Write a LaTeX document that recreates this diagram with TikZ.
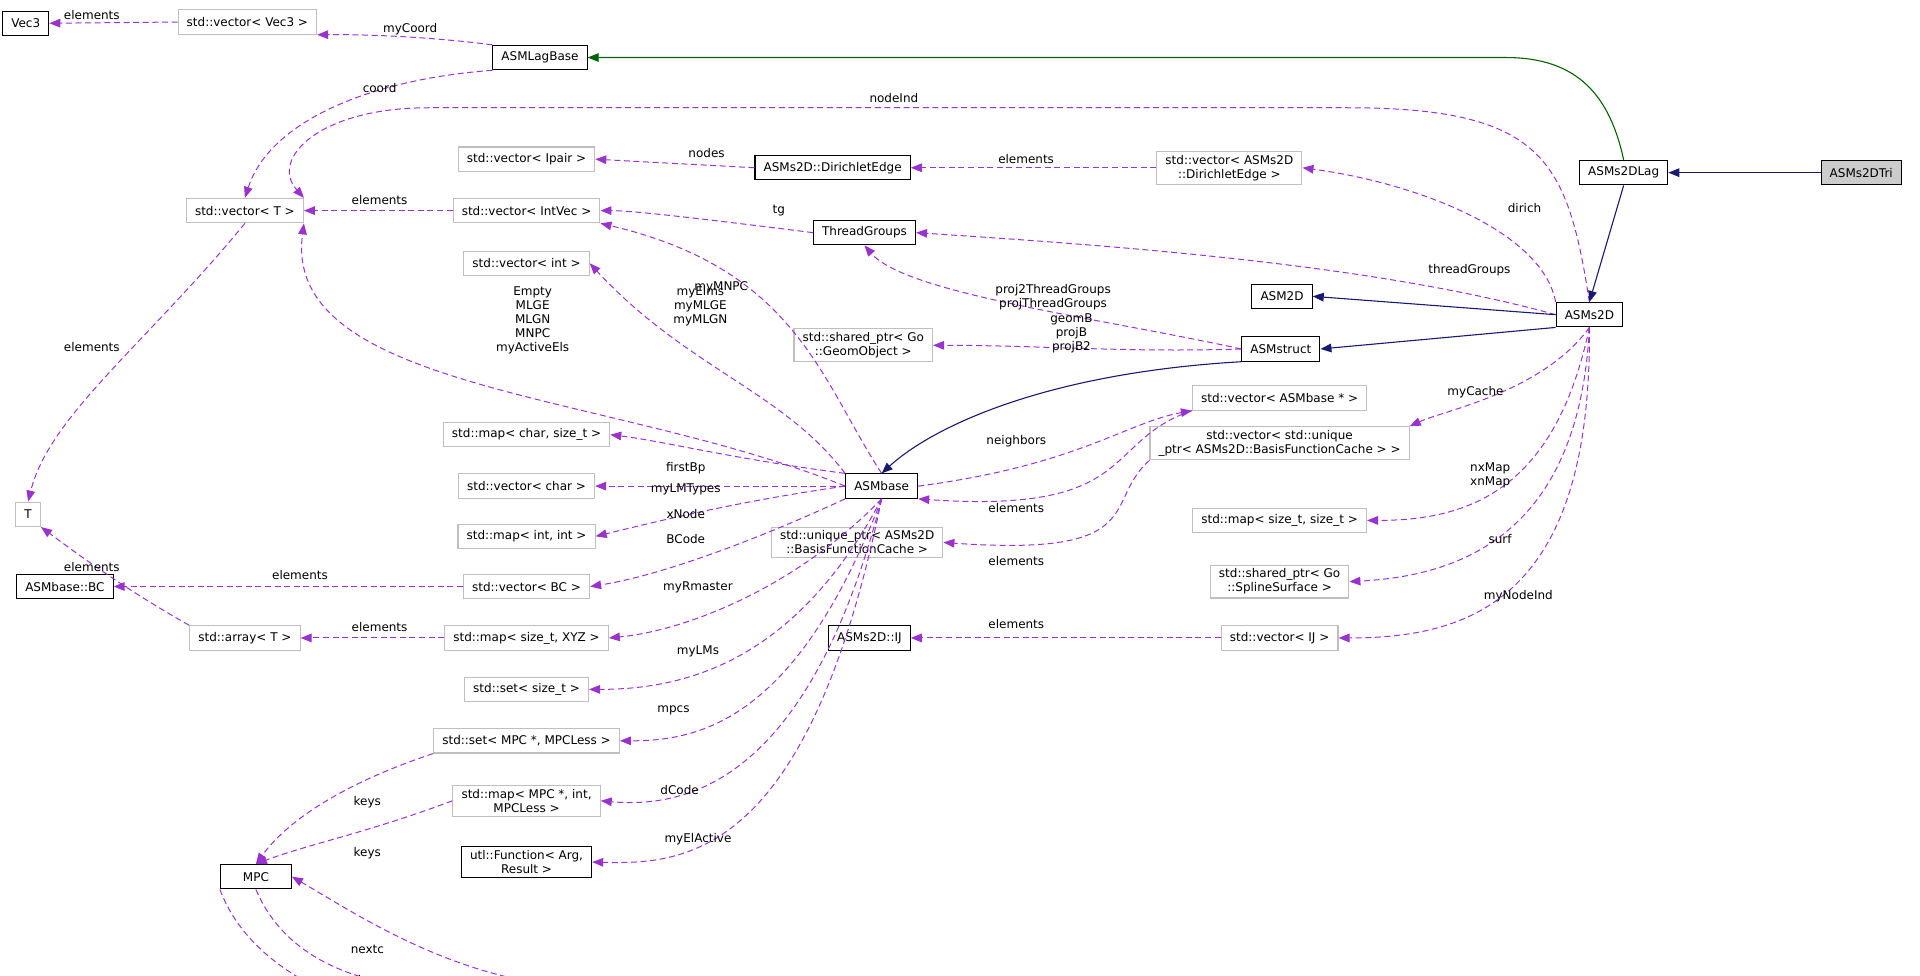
\documentclass[tikz,border=0pt]{standalone}
\usepackage{fontspec}
\setmainfont{DejaVu Sans}
\usetikzlibrary{arrows.meta}
\definecolor{pur}{HTML}{9A32CD}
\definecolor{nav}{HTML}{191970}
\definecolor{grn}{HTML}{006400}
\definecolor{gbd}{HTML}{BFBFBF}
\begin{document}
\begin{tikzpicture}[x=0.6123pt,y=-0.6123pt,font=\fontsize{6}{7}\selectfont,
 cls/.style={draw=black,rectangle,inner xsep=4.3pt,inner ysep=1.8pt,minimum height=12.2pt,align=center,line width=0.55pt},
 ext/.style={draw=gbd,rectangle,inner xsep=4.3pt,inner ysep=1.8pt,minimum height=12.2pt,align=center,line width=0.55pt},
 use/.style={draw=pur,dash pattern=on 3pt off 1.8pt,line width=0.5pt,-{Triangle[length=5.5pt,width=4.3pt,fill=pur]}},
 inh/.style={draw=nav,line width=0.55pt,-{Triangle[length=5.5pt,width=4.3pt,fill=nav]}},
 inhg/.style={draw=grn,line width=0.55pt,-{Triangle[length=5.5pt,width=4.3pt,fill=grn]}},
 lab/.style={inner sep=0pt,align=center}]
\useasboundingbox (0,0) rectangle (1568,797);
% nodes
\node[cls] (vec3) at (21,19) {Vec3};
\node[ext] (vv3) at (202,18) {std::vector< Vec3 >};
\node[cls] (lagbase) at (441,47) {ASMLagBase};
\node[ext] (vT) at (200,172) {std::vector< T >};
\node[ext] (ipair) at (430,130) {std::vector< Ipair >};
\node[cls] (dedge) at (680,137) {ASMs2D::DirichletEdge};
\node[ext] (vdedge) at (1004,137) {std::vector< ASMs2D\\::DirichletEdge >};
\node[ext] (intvec) at (430,172) {std::vector< IntVec >};
\node[cls] (tg) at (706,190) {ThreadGroups};
\node[cls] (lag) at (1326,141) {ASMs2DLag};
\node[cls,fill=gbd!80!white] (tri) at (1520,141) {ASMs2DTri};
\node[ext] (vint) at (430,215) {std::vector< int >};
\node[cls] (asm2d) at (1047,242) {ASM2D};
\node[cls] (s2d) at (1298,257) {ASMs2D};
\node[ext] (geom) at (705,282) {std::shared\_ptr< Go\\::GeomObject >};
\node[cls] (struct) at (1046,285) {ASMstruct};
\node[ext] (vbase) at (1045,325) {std::vector< ASMbase * >};
\node[ext] (vcache) at (1045,362) {std::vector< std::unique\\\_ptr< ASMs2D::BasisFunctionCache > >};
\node[ext] (mchar) at (430,355) {std::map< char, size\_t >};
\node[ext] (vchar) at (430,397) {std::vector< char >};
\node[cls] (base) at (720,397) {ASMbase};
\node[ext] (mint) at (430,438) {std::map< int, int >};
\node[ext] (T) at (23,420) {T};
\node[ext] (uptr) at (700,443) {std::unique\_ptr< ASMs2D\\::BasisFunctionCache >};
\node[ext] (mss) at (1045,425) {std::map< size\_t, size\_t >};
\node[ext] (spl) at (1045,475) {std::shared\_ptr< Go\\::SplineSurface >};
\node[cls] (bc) at (53,479) {ASMbase::BC};
\node[ext] (vbc) at (430,479) {std::vector< BC >};
\node[ext] (arr) at (200,521) {std::array< T >};
\node[ext] (mxyz) at (430,521) {std::map< size\_t, XYZ >};
\node[cls] (ij) at (710,521) {ASMs2D::IJ};
\node[ext] (vij) at (1045,521) {std::vector< IJ >};
\node[ext] (sst) at (430,563) {std::set< size\_t >};
\node[ext] (smpc) at (430,605) {std::set< MPC *, MPCLess >};
\node[ext] (mmpc) at (430,654) {std::map< MPC *, int,\\MPCLess >};
\node[cls] (fun) at (430,704) {utl::Function< Arg,\\Result >};
\node[cls,minimum width=35.5pt] (mpc) at (209,716) {MPC};
\node[cls] (dof) at (445,808) {MPC::DOF};
\node[ext] (vdof) at (695,829) {std::vector< MPC::DOF >};
% edges
\draw[use] (vv3.west) -- (vec3.east);
\node[lab] (l1) at (75,12) {elements};
\draw[use] (lagbase.north west) .. controls (350,30) and (300,28) .. (vv3.south east);
\node[lab] (l2) at (335,24) {myCoord};
\draw[use] (lagbase.south west) .. controls (300,65) and (220,100) .. (vT.north);
\node[lab] (l3) at (310,72) {coord};
\draw[inhg] (lag.north) .. controls (1315,80) and (1290,47) .. (1230,47) -- (lagbase.east);
\draw[use] (s2d.north) .. controls (1280,130) and (1260,88) .. (1100,88) -- (350,88) .. controls (260,88) and (220,130) .. (vT.north east);
\node[lab] (l4) at (730,80) {nodeInd};
\draw[use] (dedge.west) -- (ipair.east);
\node[lab] (l5) at (577,125) {nodes};
\draw[use] (vdedge.west) -- (dedge.east);
\node[lab] (l6) at (838,130) {elements};
\draw[use] (s2d.north west) .. controls (1260,190) and (1160,150) .. (vdedge.east);
\node[lab] (l7) at (1245,170) {dirich};
\draw[use] (intvec.west) -- (vT.east);
\node[lab] (l8) at (310,163) {elements};
\draw[use] (tg.west) .. controls (600,182) and (520,172) .. (intvec.east);
\node[lab] (l9) at (636,172) {tg};
\draw[use] (s2d.west) .. controls (1120,215) and (900,200) .. (tg.east);
\node[lab] (l10) at (1200,221) {threadGroups};
\draw[inh] (tri.west) -- (lag.east);
\draw[inh] (lag.south) -- (s2d.north);
\draw[use] (base.north) .. controls (670,310) and (650,220) .. (intvec.south east);
\node[lab] (l11) at (589,235) {myMNPC};
\draw[use] (struct.west) .. controls (900,260) and (740,240) .. (tg.south);
\node[lab] (l12) at (860,243) {proj2ThreadGroups\\projThreadGroups};
\draw[use] (base.north west) .. controls (640,320) and (560,300) .. (vint.east);
\node[lab] (l13) at (572,250) {myElms\\myMLGE\\myMLGN};
\draw[use] (base.west) .. controls (500,320) and (230,320) .. (vT.south east);
\node[lab] (l14) at (435,262) {Empty\\MLGE\\MLGN\\MNPC\\myActiveEls};
\draw[use] (vT.south) .. controls (120,280) and (40,340) .. (T.north);
\node[lab] (l15) at (75,283) {elements};
\draw[inh] (s2d.west) -- (asm2d.east);
\draw[use] (struct.west) .. controls (920,288) and (850,282) .. (geom.east);
\node[lab] (l16) at (875,272) {geomB\\projB\\projB2};
\draw[inh] (s2d.south west) -- (struct.east);
\draw[inh] (struct.south west) .. controls (850,305) and (760,350) .. (base.north);
\draw[use] (s2d.south) .. controls (1260,320) and (1180,335) .. (vcache.north east);
\node[lab] (l17) at (1205,320) {myCache};
\draw[use] (base.east) .. controls (880,380) and (920,345) .. (vbase.south west);
\node[lab] (l18) at (830,360) {neighbors};
\draw[use] (s2d.south) .. controls (1270,400) and (1200,425) .. (mss.east);
\node[lab] (l19) at (1217,388) {nxMap\\xnMap};
\draw[use] (vbase.south west) .. controls (900,360) and (930,420) .. (base.south east);
\node[lab] (l20) at (830,415) {elements};
\draw[use] (base.north west) .. controls (600,375) and (540,360) .. (mchar.east);
\node[lab] (l21) at (560,382) {firstBp};
\draw[use] (base.west) -- (vchar.east);
\node[lab] (l22) at (560,400) {myLMTypes};
\draw[use] (base.west) .. controls (600,410) and (540,425) .. (mint.east);
\node[lab] (l23) at (560,420) {xNode};
\draw[use] (vcache.south west) .. controls (900,410) and (940,455) .. (uptr.east);
\node[lab] (l24) at (830,458) {elements};
\draw[use] (s2d.south) .. controls (1290,430) and (1200,470) .. (spl.east);
\node[lab] (l25) at (1225,440) {surf};
\draw[use] (base.south west) .. controls (620,440) and (540,470) .. (vbc.east);
\node[lab] (l26) at (560,440) {BCode};
\draw[use] (arr.north west) .. controls (100,480) and (60,450) .. (T.south east);
\node[lab] (l27) at (75,463) {elements};
\draw[use] (vbc.west) -- (bc.east);
\node[lab] (l28) at (245,470) {elements};
\draw[use] (s2d.south) .. controls (1300,490) and (1200,521) .. (vij.east);
\node[lab] (l29) at (1240,487) {myNodeInd};
\draw[use] (vij.west) -- (ij.east);
\node[lab] (l30) at (830,510) {elements};
\draw[use] (mxyz.west) -- (arr.east);
\node[lab] (l31) at (310,512) {elements};
\draw[use] (base.south) .. controls (650,480) and (560,515) .. (mxyz.east);
\node[lab] (l32) at (570,480) {myRmaster};
\draw[use] (base.south) .. controls (650,540) and (560,563) .. (sst.east);
\node[lab] (l33) at (570,532) {myLMs};
\draw[use] (base.south) .. controls (650,590) and (570,605) .. (smpc.east);
\node[lab] (l34) at (550,580) {mpcs};
\draw[use] (base.south) .. controls (660,640) and (560,660) .. (mmpc.east);
\node[lab] (l35) at (555,645) {dCode};
\draw[use] (base.south) .. controls (660,700) and (560,706) .. (fun.east);
\node[lab] (l36) at (570,685) {myElActive};
\draw[use] (smpc.south west) .. controls (280,640) and (235,670) .. (mpc.north);
\node[lab] (l37) at (300,655) {keys};
\draw[use] (mmpc.west) .. controls (300,680) and (250,690) .. (mpc.north);
\node[lab] (l38) at (300,697) {keys};
\draw[use] (dof.north west) .. controls (340,780) and (280,740) .. (mpc.east);
\node[lab] (l39) at (300,775) {nextc};
\draw[use] (mpc.south) .. controls (240,800) and (330,812) .. (dof.west);
\node[lab] (l40) at (300,800) {slave};
\draw[use] (vdof.north west) .. controls (570,812) and (530,806) .. (dof.east);
\node[lab] (l41) at (560,818) {elements};
\draw[use] (mpc.south west) .. controls (230,860) and (500,860) .. (vdof.south west);
\node[lab] (l42) at (445,835) {master};
\end{tikzpicture}
\end{document}
